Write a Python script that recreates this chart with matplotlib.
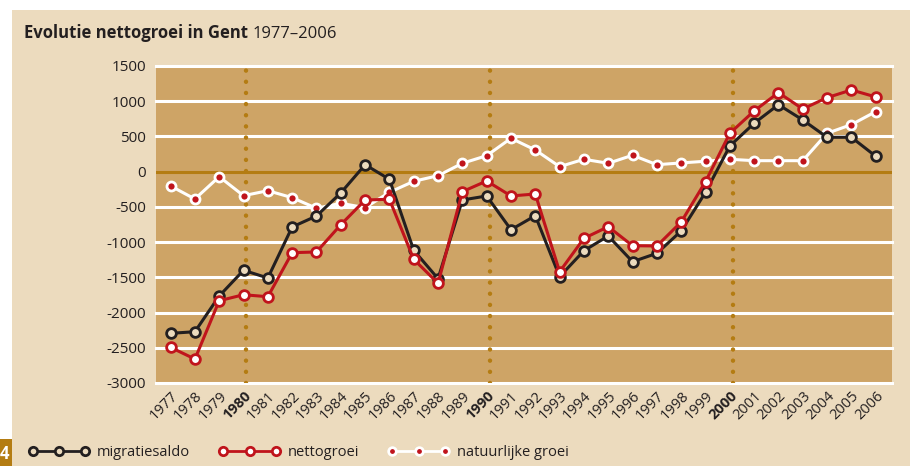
import matplotlib.pyplot as plt
from matplotlib.patches import Rectangle
from matplotlib.lines import Line2D

years = list(range(1977, 2007))
migratiesaldo = [-2295, -2272, -1765, -1400, -1509, -785, -629, -302, 99, -108,
                 -1116, -1519, -402, -345, -824, -625, -1491, -1122, -913, -1278,
                 -1159, -842, -293, 365, 687, 951, 734, 488, 488, 219]
nettogroei = [-2494, -2660, -1832, -1747, -1775, -1150, -1140, -753, -402, -392,
              -1244, -1585, -284, -132, -345, -317, -1420, -946, -781, -1051,
              -1055, -714, -142, 545, 862, 1122, 890, 1051, 1160, 1061]
natuurlijke_groei = [-203, -388, -71, -341, -270, -369, -520, -449, -511, -293,
                     -137, -57, 119, 227, 474, 308, 71, 176, 119, 233,
                     99, 124, 148, 176, 156, 156, 156, 545, 668, 852]
yticks = list(range(-3000, 1501, 500))
decades = [1980, 1990, 2000]

BEIGE = '#ecdbbe'
TAN = '#cea466'
GOLD = '#b47c12'
BLACK = '#231f20'
RED = '#c0141c'

plt.rcParams['font.family'] = ['Open Sans', 'DejaVu Sans']

fig = plt.figure(figsize=(9.1, 4.66), dpi=100)
fig.patch.set_facecolor('white')
# beige panel and page tab
fig.add_artist(Rectangle((12 / 910, 0), 1, 1 - 10 / 466, transform=fig.transFigure,
                         facecolor=BEIGE, edgecolor='none', zorder=0))
fig.add_artist(Rectangle((0, 0), 12 / 910, 27 / 466, transform=fig.transFigure,
                         facecolor=GOLD, edgecolor='none', zorder=0))
fig.text(5 / 910, 12 / 466, '4', color='white', fontsize=12, fontweight='bold',
         ha='center', va='center')

ax = fig.add_axes([156 / 910, 1 - 383 / 466, (892 - 156) / 910, (383 - 66) / 466])
ax.set_facecolor(TAN)
for s in ax.spines.values():
    s.set_visible(False)

ax.set_xlim(1976.4, 2006.67)
ax.set_ylim(-3000, 1500)

for v in yticks:
    if v == 0:
        ax.axhline(v, color=GOLD, lw=2.2, zorder=1)
    else:
        ax.axhline(v, color='white', lw=2.2, zorder=1, clip_on=False)
for d in decades:
    ax.axvline(d + 0.12, color=GOLD, lw=3.2, ls=(0, (0.01, 2.5)),
               dash_capstyle='round', zorder=1)

ax.plot(years, natuurlijke_groei, color='white', lw=2.2, marker='o', ms=6.5,
        mfc=RED, mec='white', mew=2, zorder=3)
ax.plot(years, migratiesaldo, color=BLACK, lw=2.2, marker='o', ms=7,
        mfc=BEIGE, mec=BLACK, mew=2, zorder=4)
ax.plot(years, nettogroei, color=RED, lw=2.2, marker='o', ms=7,
        mfc='white', mec=RED, mew=2, zorder=5)

ax.set_yticks(yticks)
ax.set_yticklabels([str(v) for v in yticks], fontsize=11, color=BLACK)
ax.set_xticks(years)
ax.set_xticklabels([str(y) for y in years], rotation=45, ha='right',
                   rotation_mode='anchor', fontsize=10.5, color=BLACK)
for lbl, y in zip(ax.get_xticklabels(), years):
    if y in decades:
        lbl.set_fontweight('bold')
ax.tick_params(axis='y', length=0, pad=7)
ax.tick_params(axis='x', length=0, pad=4)

title = fig.text(24 / 910, 1 - 38 / 466, 'Evolutie nettogroei in Gent', fontsize=12,
                 fontweight='bold', color=BLACK, va='baseline')
fig.canvas.draw()
bb = title.get_window_extent()
fig.text(bb.x1 / 910 + 5 / 910, 1 - 38 / 466, '1977–2006', fontsize=12,
         color=BLACK, va='baseline')

handles = [
    Line2D([], [], color=BLACK, lw=2, marker='o', ms=6, mfc=BEIGE, mec=BLACK, mew=2),
    Line2D([], [], color=RED, lw=2, marker='o', ms=6, mfc='white', mec=RED, mew=2),
    Line2D([], [], color='white', lw=2, marker='o', ms=5.5, mfc=RED, mec='white', mew=2),
]
fig.legend(handles, ['migratiesaldo', 'nettogroei', 'natuurlijke groei'],
           loc='center left', bbox_to_anchor=(15 / 910, 1 - 453 / 466), ncol=3,
           numpoints=3, handlelength=4.2, handletextpad=0.5, columnspacing=2.0,
           frameon=False, fontsize=10.5, labelcolor=BLACK)

fig.savefig('out.png', dpi=100, facecolor=fig.get_facecolor())
